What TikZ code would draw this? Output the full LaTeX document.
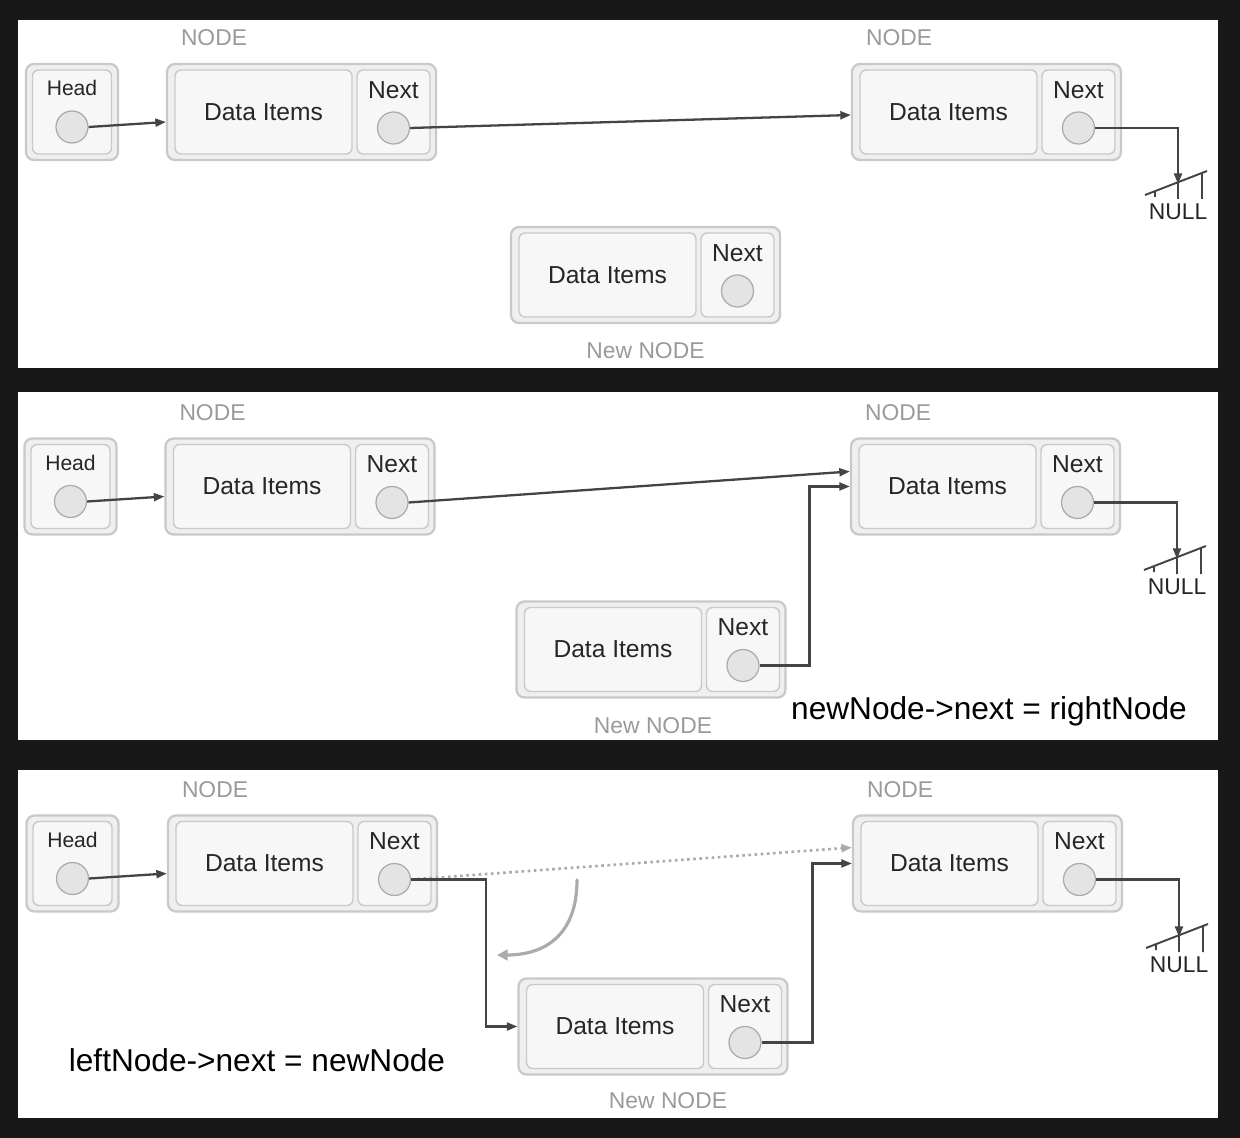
\documentclass[tikz,border=0pt]{standalone}
\usepackage{fontspec}
\setmainfont{Liberation Sans}
\usetikzlibrary{positioning,calc,arrows.meta}
\definecolor{panelbg}{HTML}{181818}
\definecolor{boxline}{HTML}{C9C9C9}
\definecolor{boxfill}{HTML}{EFEFEF}
\definecolor{cellfill}{HTML}{F7F7F7}
\definecolor{dotfill}{HTML}{E4E4E4}
\definecolor{dotline}{HTML}{ABABAB}
\definecolor{linkcol}{HTML}{444444}
\definecolor{tagcol}{HTML}{9A9A9A}
\definecolor{textcol}{HTML}{262626}

% one list element: outer frame, data cell, next cell with its pointer
\newcommand{\listnode}[2]{%
  \node[outerbox] (#1) at (#2) {};
  \node[databox] (#1-data) at ($(#1.center)+(-38,0)$) {Data Items};
  \node[nextbox] (#1-next) at ($(#1.center)+(92,0)$) {};
  \node[celltext] (#1-lbl) at ($(#1-next.center)+(0,-22)$) {Next};
  \node[ptr] (#1-ptr) at ($(#1-next.center)+(0,16)$) {};
}
% the head pointer
\newcommand{\headnode}[2]{%
  \node[headouter] (#1) at (#2) {};
  \node[headinner] (#1-in) at (#1.center) {};
  \node[headtext] (#1-lbl) at ($(#1.center)+(0,-24)$) {Head};
  \node[ptr] (#1-ptr) at ($(#1.center)+(0,15)$) {};
}
% ground sign for NULL
\newcommand{\nullend}[2]{%
  \coordinate (#1) at (#2);
  \draw[linkcol, line width=1.1pt]
    ($(#1)+(-33,11)$) -- ($(#1)+(29,-13)$)
    ($(#1)+(-23,7)$) -- ($(#1)+(-23,13)$)
    ($(#1)+(0,-2)$) -- ($(#1)+(0,15)$)
    ($(#1)+(24,-11)$) -- ($(#1)+(24,15)$);
  \node[nulltext] (#1-lbl) at ($(#1)+(0,28)$) {NULL};
}

\begin{document}
\begin{tikzpicture}[x=0.02cm,y=-0.02cm,
  outerbox/.style={draw=boxline, fill=boxfill, line width=1.3pt, rounded corners=4.5pt,
    minimum width=5.38cm, minimum height=1.92cm, inner sep=0pt},
  databox/.style={draw=boxline, fill=cellfill, line width=0.8pt, rounded corners=3.5pt,
    minimum width=3.54cm, minimum height=1.68cm, inner sep=0pt, text=textcol,
    font=\fontsize{14}{16}\selectfont},
  nextbox/.style={draw=boxline, fill=cellfill, line width=0.8pt, rounded corners=3.5pt,
    minimum width=1.46cm, minimum height=1.68cm, inner sep=0pt},
  headouter/.style={draw=boxline, fill=boxfill, line width=1.3pt, rounded corners=4.5pt,
    minimum width=1.84cm, minimum height=1.92cm, inner sep=0pt},
  headinner/.style={draw=boxline, fill=cellfill, line width=0.8pt, rounded corners=3.5pt,
    minimum width=1.58cm, minimum height=1.68cm, inner sep=0pt},
  celltext/.style={text=textcol, inner sep=0pt, font=\fontsize{14}{16}\selectfont},
  headtext/.style={text=textcol, inner sep=0pt, font=\fontsize{12}{14}\selectfont},
  ptr/.style={circle, draw=dotline, fill=dotfill, line width=0.7pt,
    minimum size=0.64cm, inner sep=0pt},
  tag/.style={text=tagcol, inner sep=0pt, font=\fontsize{13}{15}\selectfont},
  nulltext/.style={text=textcol, inner sep=0pt, font=\fontsize{13}{15}\selectfont},
  caption/.style={text=black, inner sep=0pt, font=\fontsize{18}{20}\selectfont},
  link/.style={draw=linkcol, line width=1.3pt, -{Triangle[length=6pt,width=4.5pt]}},
  oldlink/.style={draw=dotline, line width=1.5pt, dotted, -{Triangle[length=6pt,width=4.5pt]}},
  swing/.style={draw=dotline, line width=1.8pt, line cap=round, -{Triangle[length=6pt,width=6pt]}}]

\fill[panelbg] (0,0) rectangle (1240,1138);
\foreach \top/\bot in {20/368, 392/740, 770/1118}
  \fill[white] (18,\top) rectangle (1218,\bot);

% first panel
\headnode{ha}{72,112}
\listnode{la}{301.5,112}
\listnode{ra}{986.5,112}
\listnode{na}{645.5,275}
\node[tag] (la-tag) at ($(la.center)+(-87.5,-74)$) {NODE};
\node[tag] (ra-tag) at ($(ra.center)+(-87.5,-74)$) {NODE};
\node[tag] (na-tag) at ($(na.center)+(0,76)$) {New NODE};
\nullend{za}{1178,184}
\draw[link] (ha-ptr.east) -- ($(la.west)+(0,10)$);
\draw[link] (la-ptr.east) -- ($(ra.west)+(0,3)$);
\draw[link] (ra-ptr.east) -| (za);

% second panel
\headnode{hb}{70.5,486.5}
\listnode{lb}{300,486.5}
\listnode{rb}{985.5,486.5}
\listnode{nb}{651,649.5}
\node[tag] (lb-tag) at ($(lb.center)+(-87.5,-73.5)$) {NODE};
\node[tag] (rb-tag) at ($(rb.center)+(-87.5,-73.5)$) {NODE};
\node[tag] (nb-tag) at ($(nb.center)+(2,76)$) {New NODE};
\nullend{zb}{1177,559}
\draw[link] (hb-ptr.east) -- ($(lb.west)+(0,10)$);
\draw[link] (lb-ptr.east) -- ($(rb.west)+(0,-15)$);
\draw[link] (nb-ptr.east) -- ++(50,0) |- (rb.west);
\draw[link] (rb-ptr.east) -| (zb);
\node[caption] (cb) at (989,711) {newNode->next = rightNode};

% third panel
\headnode{hc}{72.5,863.5}
\listnode{lc}{302.5,863.5}
\listnode{rc}{987.5,863.5}
\listnode{nc}{653,1026.5}
\node[tag] (lc-tag) at ($(lc.center)+(-87.5,-74)$) {NODE};
\node[tag] (rc-tag) at ($(rc.center)+(-87.5,-74)$) {NODE};
\node[tag] (nc-tag) at ($(nc.center)+(15,74)$) {New NODE};
\nullend{zc}{1179,937}
\draw[link] (hc-ptr.east) -- ($(lc.west)+(0,10)$);
\draw[oldlink] (lc-ptr.east) -- ($(rc.west)+(0,-16)$);
\draw[link] (lc-ptr.east) -- ++(75,0) |- (nc.west);
\draw[link] (nc-ptr.east) -- ++(51,0) |- (rc.west);
\draw[link] (rc-ptr.east) -| (zc);
\coordinate (swing-a) at (577,880);
\coordinate (swing-b) at (497,955);
\draw[swing] (swing-a) .. controls (577,935) and (545,955) .. (swing-b);
\node[caption] (cc) at (257,1060) {leftNode->next = newNode};
\end{tikzpicture}
\end{document}
